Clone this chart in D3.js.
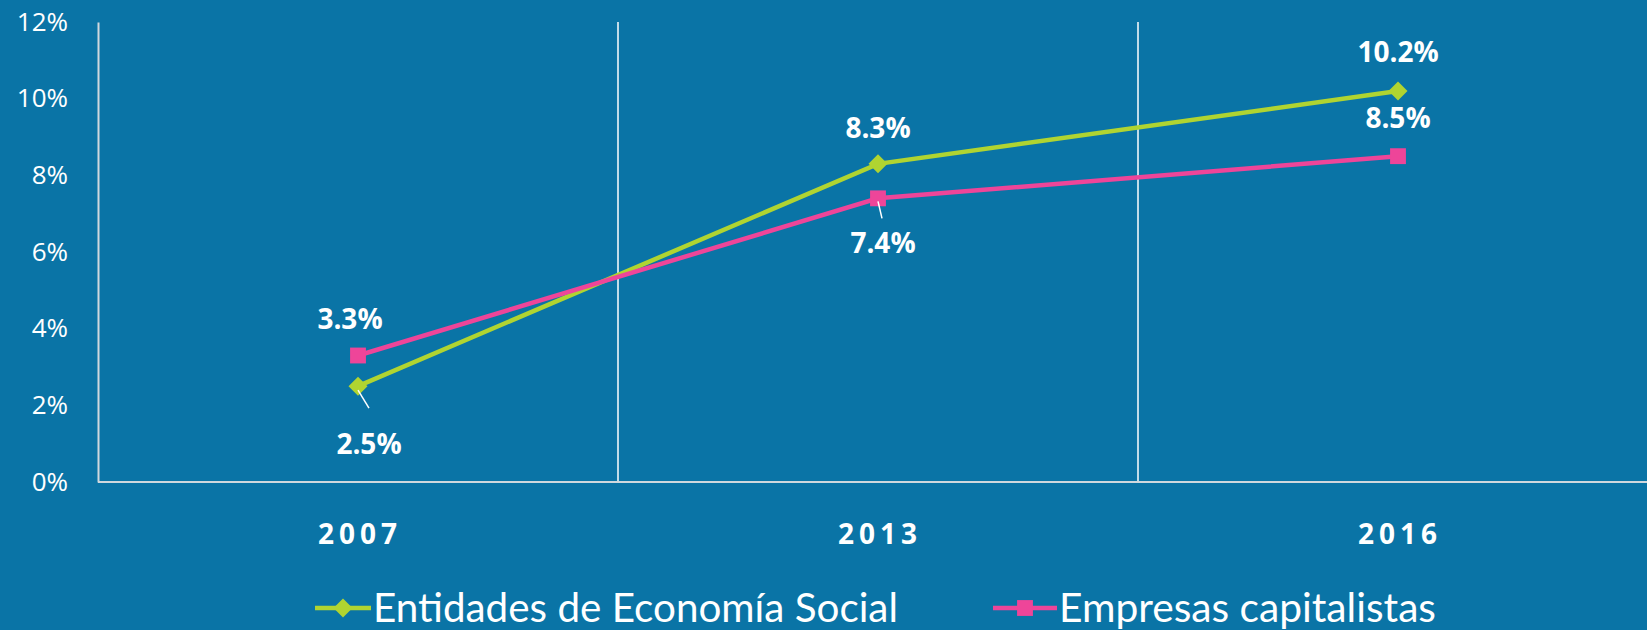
<!DOCTYPE html>
<meta charset="utf-8">
<head>
  <style>
    html, body { margin: 0; padding: 0; background: #0a74a6; }
    svg { display: block; font-family: 'Open Sans', 'DejaVu Sans', sans-serif; }
  </style>
  <script src="https://d3js.org/d3.v7.min.js"></script>
</head>
<body>
  <div id="my_dataviz"></div>
  <script>
    // data
    const years = ["2007", "2013", "2016"];
    const socialValues = [2.5, 8.3, 10.2];
    const capitalValues = [3.3, 7.4, 8.5];
    const seriesNames = ["Entidades de Economía Social", "Empresas capitalistas"];
    const yTicks = [0, 2, 4, 6, 8, 10, 12];

    // label placement: offset from the point, plus optional leader line offsets
    const socialLabelPos = [[11, 68, [0, 4, 11, 22]], [0, -26, null], [0, -29, null]];
    const capitalLabelPos = [[-8, -27, null], [5, 55, [0, 3, 4, 20]], [0, -28, null]];

    const W = 1647, H = 630;
    const green = "#b0d431", pink = "#ee4599";

    const svg = d3.select("#my_dataviz").append("svg")
      .attr("width", W).attr("height", H);

    svg.append("rect").attr("width", W).attr("height", H).attr("fill", "#0a74a6");

    // Scales
    const x = d3.scaleBand().domain(years).range([98, 98 + 3 * 520]).padding(0);
    const y = d3.scaleLinear().domain([0, 12]).range([482, 22]);
    const cx = d => x(d) + x.bandwidth() / 2;

    // vertical separators between categories
    svg.selectAll(".sep")
      .data(years.slice(1))
      .join("line")
      .attr("x1", d => x(d)).attr("x2", d => x(d))
      .attr("y1", y(12)).attr("y2", y(0))
      .attr("stroke", "#ffffff").attr("stroke-width", 1.5);

    // Y axis
    const yAxis = svg.append("g")
      .attr("transform", "translate(98,0)")
      .call(d3.axisLeft(y).tickValues(yTicks).tickSize(0).tickPadding(30).tickFormat(d => d + "%"));
    yAxis.select(".domain").attr("stroke", "#d0d8de").attr("stroke-width", 2);
    yAxis.selectAll("text")
      .attr("fill", "#ffffff")
      .style("font-size", "26px")
      .style("font-family", "'Open Sans', sans-serif");

    // X axis
    svg.append("line")
      .attr("x1", 98).attr("x2", W)
      .attr("y1", y(0)).attr("y2", y(0))
      .attr("stroke", "#d0d8de").attr("stroke-width", 2);

    svg.selectAll(".xlab")
      .data(years)
      .join("text")
      .attr("x", d => cx(d) + 2)
      .attr("y", 544)
      .attr("text-anchor", "middle")
      .attr("fill", "#ffffff")
      .style("font-size", "28px")
      .style("font-weight", "bold")
      .style("letter-spacing", "5px")
      .text(d => d);

    const line = d3.line().x((d, i) => cx(years[i])).y(d => y(d));
    const marker = shape => d3.symbol()
      .type(shape === "diamond" ? d3.symbolDiamond2 : d3.symbolSquare2)
      .size(shape === "diamond" ? 230 : 320);

    function drawSeries(values, color, shape, labelPos) {
      svg.append("path")
        .datum(values)
        .attr("d", line)
        .attr("fill", "none")
        .attr("stroke", color)
        .attr("stroke-width", 4.5);

      svg.selectAll(null)
        .data(values)
        .join("path")
        .attr("transform", (d, i) => `translate(${cx(years[i])},${y(d)})`)
        .attr("d", marker(shape))
        .attr("fill", color);

      // leader lines
      values.forEach((v, i) => {
        const l = labelPos[i][2];
        if (l) {
          svg.append("line")
            .attr("x1", cx(years[i]) + l[0]).attr("y1", y(v) + l[1])
            .attr("x2", cx(years[i]) + l[2]).attr("y2", y(v) + l[3])
            .attr("stroke", "#ffffff").attr("stroke-width", 1.5);
        }
      });

      svg.selectAll(null)
        .data(values)
        .join("text")
        .attr("x", (d, i) => cx(years[i]) + labelPos[i][0])
        .attr("y", (d, i) => y(d) + labelPos[i][1])
        .attr("text-anchor", "middle")
        .attr("fill", "#ffffff")
        .style("font-size", "28px")
        .style("font-weight", "bold")
        .text(d => d.toFixed(1) + "%");
    }

    drawSeries(socialValues, green, "diamond", socialLabelPos);
    drawSeries(capitalValues, pink, "square", capitalLabelPos);

    // Legend
    const legend = [
      { name: seriesNames[0], color: green, shape: "diamond", x0: 315, tx: 373, tw: 525 },
      { name: seriesNames[1], color: pink, shape: "square", x0: 993, tx: 1059, tw: 377 }
    ];
    const ly = 608;
    legend.forEach(l => {
      svg.append("line")
        .attr("x1", l.x0).attr("x2", l.tx - 2)
        .attr("y1", ly).attr("y2", ly)
        .attr("stroke", l.color).attr("stroke-width", 4.5);
      svg.append("path")
        .attr("transform", `translate(${(l.x0 + l.tx - 2) / 2},${ly})`)
        .attr("d", marker(l.shape))
        .attr("fill", l.color);
      svg.append("text")
        .attr("x", l.tx)
        .attr("y", ly + 14)
        .attr("fill", "#ffffff")
        .attr("textLength", l.tw)
        .attr("lengthAdjust", "spacingAndGlyphs")
        .style("font-size", "40px")
        .style("font-family", "Lato, 'Open Sans', sans-serif")
        .text(l.name);
    });
  </script>
</body>
